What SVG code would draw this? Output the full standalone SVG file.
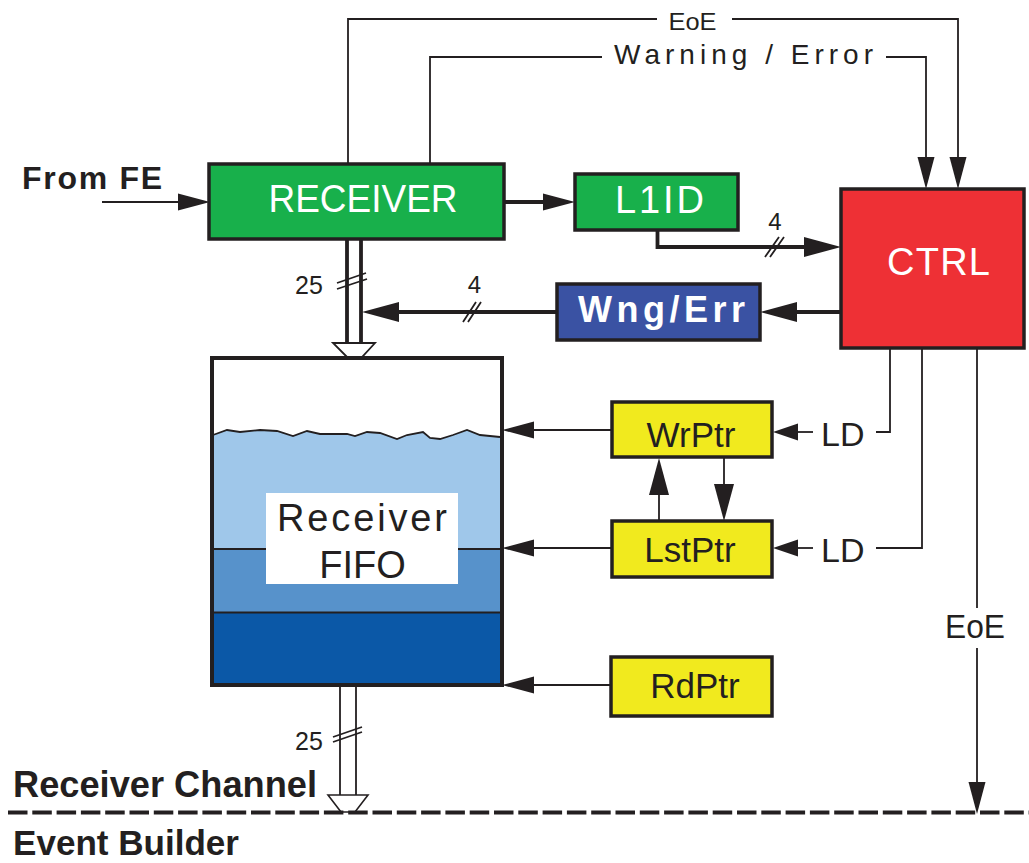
<svg xmlns="http://www.w3.org/2000/svg" width="1029" height="863" viewBox="0 0 1029 863">
<style>
text { font-family: "Liberation Sans", Arial, sans-serif; }
.box { stroke: #231f20; stroke-width: 3.5; }
.thin { fill: none; stroke: #231f20; stroke-width: 1.8; }
.thick { fill: none; stroke: #231f20; stroke-width: 3.8; }
.wt { fill: #ffffff; }
.bk { fill: #231f20; }
.mid { text-anchor: middle; }
</style>
<defs>
<marker id="ah" markerUnits="userSpaceOnUse" markerWidth="32" markerHeight="17" viewBox="0 0 32 17" refX="0" refY="8.5" orient="auto" overflow="visible"><path d="M0,0 L32,8.5 L0,17 Z" fill="#231f20"/></marker>
<marker id="ahL" markerUnits="userSpaceOnUse" markerWidth="37" markerHeight="20" viewBox="0 0 37 20" refX="0" refY="10" orient="auto" overflow="visible"><path d="M0,0 L37,10 L0,20 Z" fill="#231f20"/></marker>
<marker id="ahS" markerUnits="userSpaceOnUse" markerWidth="25" markerHeight="17" viewBox="0 0 25 17" refX="0" refY="8.5" orient="auto" overflow="visible"><path d="M0,0 L25,8.5 L0,17 Z" fill="#231f20"/></marker>
</defs>
<rect width="1029" height="863" fill="#ffffff"/>

<g id="connectors">
  <path class="thin" d="M102,202 H178" marker-end="url(#ah)"/>
  <path class="thick" d="M504,202 H543" marker-end="url(#ah)"/>
  <path class="thick" d="M657.5,230 V247 H804" marker-end="url(#ahL)"/>
  <path class="thick" d="M841,312 H797" marker-end="url(#ahL)"/>
  <path class="thick" d="M557,312 H399" marker-end="url(#ahL)"/>
  <path class="thin" d="M348,164 V19 H657"/>
  <path class="thin" d="M732,19 H958 V157" marker-end="url(#ah)"/>
  <path class="thin" d="M430,164 V57 H602"/>
  <path class="thin" d="M886,57 H926 V157" marker-end="url(#ah)"/>
  <path class="thin" d="M612,430 H534" marker-end="url(#ah)"/>
  <path class="thin" d="M612,548 H534" marker-end="url(#ah)"/>
  <path class="thin" d="M611,685 H534" marker-end="url(#ah)"/>
  <path class="thin" stroke-width="2.2" d="M659,521 V495" marker-end="url(#ahL)"/>
  <path class="thin" stroke-width="2.2" d="M724,457 V484" marker-end="url(#ahL)"/>
  <path class="thin" d="M890,348 V432 H876"/>
  <path class="thin" d="M813,432 H798" marker-end="url(#ahS)"/>
  <path class="thin" d="M922,348 V548 H876"/>
  <path class="thin" d="M813,548 H798" marker-end="url(#ahS)"/>
  <path class="thin" d="M977,348 V608"/>
  <path class="thin" d="M977,648 V782" marker-end="url(#ah)"/>
  <!-- bus slashes -->
  <path class="thin" stroke-width="1.6" d="M765,257 L779,237 M770,257 L784,237"/>
  <path class="thin" stroke-width="1.6" d="M463,322 L476,302 M468,322 L481,302"/>
  <!-- top bus -->
  <path class="thick" stroke-width="3.2" d="M347,239 V343 M361,239 V343"/>
  <path d="M333,343 H375 L362,357 H347 Z" fill="#ffffff" stroke="#231f20" stroke-width="1.8"/>
  <path class="thin" stroke-width="2" d="M337,283 L366,273 M337,289 L367,279"/>
  <!-- bottom bus -->
  <path class="thin" stroke-width="2.2" d="M340,687 V795 M356,687 V795"/>
  <path d="M328,795 H368 L355,812 H341 Z" fill="#ffffff" stroke="#231f20" stroke-width="1.6"/>
  <path class="thin" stroke-width="2" d="M333,742 L362,732 M333,737 L362,727"/>
  <!-- boundary -->
  <path d="M8,812.5 H1029" fill="none" stroke="#231f20" stroke-width="4" stroke-dasharray="19.5 4.8"/>
</g>

<g id="receiver">
  <rect class="box" x="209" y="164" width="295" height="75" fill="#18b04b"/>
  <text class="wt mid" x="363" y="212" font-size="38" textLength="189" lengthAdjust="spacingAndGlyphs">RECEIVER</text>
</g>
<g id="l1id">
  <rect class="box" x="575" y="174" width="163" height="56" fill="#18b04b"/>
  <text class="wt mid" x="659.5" y="213" font-size="38" textLength="89" lengthAdjust="spacing">L1ID</text>
</g>
<g id="ctrl">
  <rect class="box" x="841" y="189" width="183" height="159" fill="#ee3035"/>
  <text class="wt mid" x="938.5" y="275" font-size="38" textLength="103" lengthAdjust="spacing">CTRL</text>
</g>
<g id="wngerr">
  <rect class="box" x="557" y="284" width="203" height="56" fill="#3a52a3"/>
  <text class="wt mid" x="661.5" y="322" font-size="36" font-weight="bold" textLength="167" lengthAdjust="spacing">Wng/Err</text>
</g>
<g id="fifo">
  <rect x="212" y="358" width="290" height="327" fill="#ffffff"/>
  <path d="M213,435 L227,430 L240,432 L260,430 L277,431 L293,436 L307,431 L320,434 L347,434 L355,436 L367,432 L380,433 L397,439 L407,435 L423,432 L430,438 L440,439 L453,435 L467,430 L480,435 L490,436 L500,437 L500,549 L213,549 Z" fill="#9fc7ea"/>
  <rect x="213" y="549" width="288" height="63" fill="#5792cb"/>
  <rect x="213" y="612" width="288" height="72" fill="#0b58a7"/>
  <path class="thin" d="M213,435 L227,430 L240,432 L260,430 L277,431 L293,436 L307,431 L320,434 L347,434 L355,436 L367,432 L380,433 L397,439 L407,435 L423,432 L430,438 L440,439 L453,435 L467,430 L480,435 L490,436 L500,437"/>
  <path class="thin" d="M213,549 H501"/>
  <path class="thin" stroke-width="3" d="M213,612.5 H501"/>
  <rect x="212" y="358" width="290" height="327" fill="none" stroke="#231f20" stroke-width="4"/>
  <rect x="266" y="493" width="192" height="91" fill="#ffffff"/>
  <text class="bk mid" x="362" y="531" font-size="38" textLength="170" lengthAdjust="spacing">Receiver</text>
  <text class="bk mid" x="362.5" y="578" font-size="38">FIFO</text>
</g>
<g id="wrptr">
  <rect class="box" x="612" y="402" width="160" height="55" fill="#f1ea1e"/>
  <text class="bk mid" x="691" y="447" font-size="35">WrPtr</text>
</g>
<g id="lstptr">
  <rect class="box" x="612" y="521" width="160" height="56" fill="#f1ea1e"/>
  <text class="bk mid" x="690" y="562" font-size="35">LstPtr</text>
</g>
<g id="rdptr">
  <rect class="box" x="611" y="657" width="161" height="59" fill="#f1ea1e"/>
  <text class="bk mid" x="695" y="698" font-size="35">RdPtr</text>
</g>

<g id="labels">
  <text class="bk" x="22" y="189" font-size="32" font-weight="bold" textLength="140" lengthAdjust="spacing">From FE</text>
  <text class="bk mid" x="692.5" y="30" font-size="24" textLength="48" lengthAdjust="spacingAndGlyphs">EoE</text>
  <text class="bk" x="614" y="64" font-size="28" textLength="259" lengthAdjust="spacing">Warning / Error</text>
  <text class="bk mid" x="775" y="230" font-size="24">4</text>
  <text class="bk mid" x="474.5" y="293" font-size="24">4</text>
  <text class="bk" x="295" y="294" font-size="25">25</text>
  <text class="bk" x="295" y="750" font-size="25">25</text>
  <text class="bk" x="821" y="446" font-size="34">LD</text>
  <text class="bk" x="821" y="562" font-size="34">LD</text>
  <text class="bk mid" x="975" y="638" font-size="33" textLength="60" lengthAdjust="spacingAndGlyphs">EoE</text>
  <text class="bk" x="13" y="797" font-size="36" font-weight="bold" textLength="304" lengthAdjust="spacingAndGlyphs">Receiver Channel</text>
  <text class="bk" x="13" y="855" font-size="35" font-weight="bold" textLength="226" lengthAdjust="spacingAndGlyphs">Event Builder</text>
</g>
</svg>
